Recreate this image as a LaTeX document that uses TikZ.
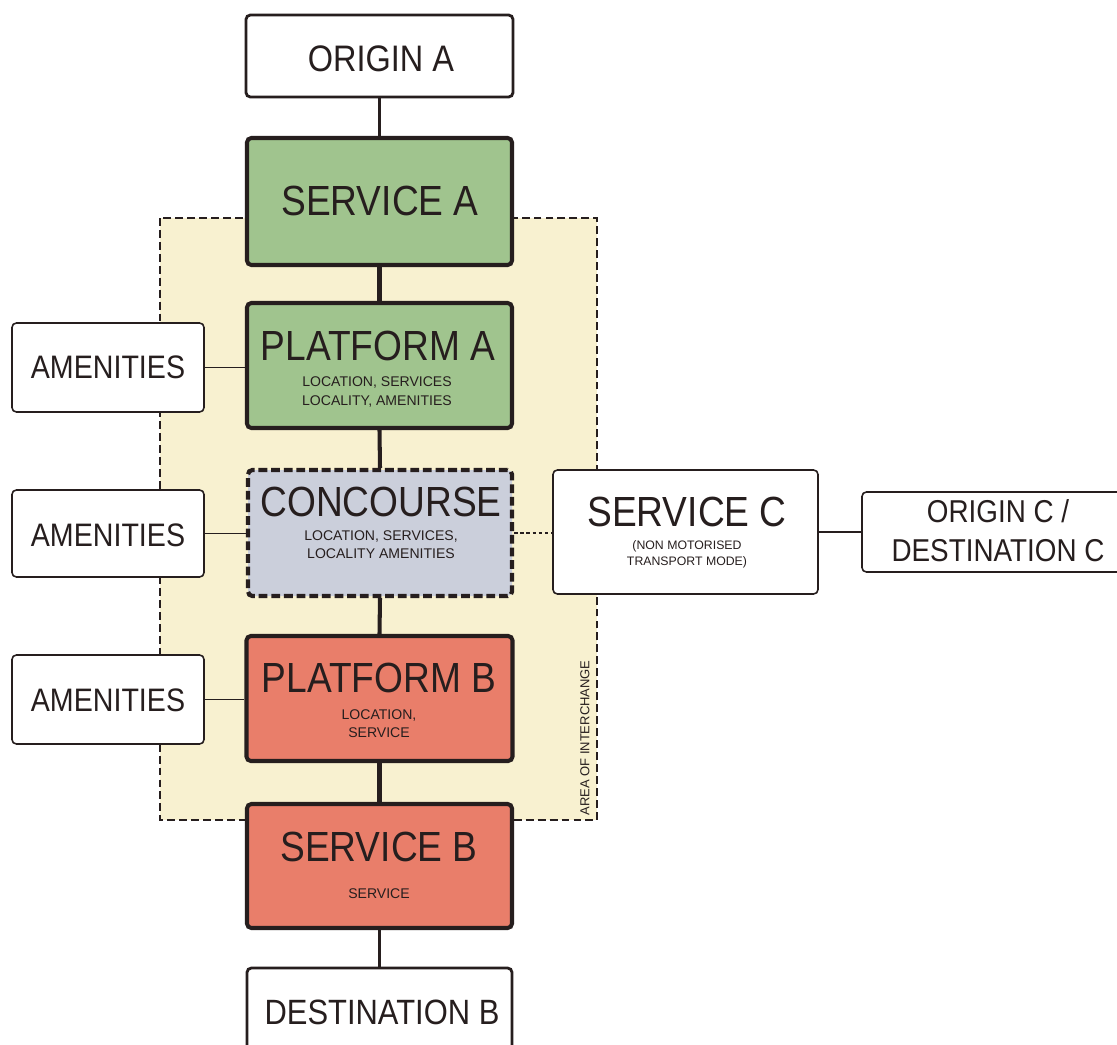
\documentclass[tikz,border=0pt]{standalone}
\usepackage{fontspec}
\setmainfont{Liberation Sans}
\newfontfamily\headfont{Liberation Sans}[FakeStretch=0.88]
\usetikzlibrary{calc}
\definecolor{ink}{RGB}{38,30,30}
\definecolor{areafill}{RGB}{248,241,208}
\definecolor{greenfill}{RGB}{160,196,142}
\definecolor{redfill}{RGB}{233,126,106}
\definecolor{greyfill}{RGB}{203,207,219}
\begin{document}
\begin{tikzpicture}[x=0.02cm,y=-0.02cm,
  bx/.style 2 args={minimum width=#1*0.02cm, minimum height=#2*0.02cm, inner sep=0pt, rounded corners=2.5pt},
  heavybox/.style={draw=ink, line width=2.3pt},
  endbox/.style={draw=ink, line width=1.6pt, fill=white},
  lightbox/.style={draw=ink, line width=0.9pt, fill=white},
  title/.style={inner sep=0pt, text=ink, font=\headfont\fontsize{24}{28}\selectfont},
  endtitle/.style={inner sep=0pt, text=ink, font=\headfont\fontsize{21}{25}\selectfont},
  amtitle/.style={inner sep=0pt, text=ink, font=\headfont\fontsize{18.5}{22}\selectfont},
  subtext/.style={inner sep=0pt, text=ink, align=center, font=\fontsize{8}{10.3}\selectfont},
  spine/.style={draw=ink, line width=2.3pt},
  thinlink/.style={draw=ink, line width=0.9pt}
]
\useasboundingbox (0,0) rectangle (1117,1045);
\clip (0,0) rectangle (1117,1045);
\fill[white] (0,0) rectangle (1117,1045);

% area of interchange
\draw[fill=areafill, draw=ink, line width=0.8pt, dash pattern=on 4.5pt off 2.3pt]
  (160,218) rectangle (597,820);
\node[inner sep=0pt, text=ink, rotate=90, font=\fontsize{7.4}{9}\selectfont] (areal) at (585,738) {AREA OF INTERCHANGE};

% spine boxes
\node[bx={267}{82}, endbox] (oa) at (379.5,56) {};
\node[bx={265}{127}, heavybox, fill=greenfill] (sa) at (379.5,201.5) {};
\node[bx={265}{125}, heavybox, fill=greenfill] (pa) at (379.5,365.5) {};
\node[bx={264}{126}, draw=ink, line width=2.4pt, dash pattern=on 5pt off 2.2pt, fill=greyfill] (cc) at (380,533) {};
\node[bx={266}{125}, heavybox, fill=redfill] (pb) at (379.5,698.5) {};
\node[bx={265}{124}, heavybox, fill=redfill] (sb) at (379.5,866) {};
\node[bx={265}{110}, endbox] (db) at (379.5,1023) {};

% side boxes
\node[bx={192}{89}, lightbox] (am1) at (108,367.5) {};
\node[bx={192}{87}, lightbox] (am2) at (108,533.5) {};
\node[bx={192}{89}, lightbox] (am3) at (108,699.5) {};
\node[bx={265}{124}, lightbox] (sc) at (685.5,532) {};
\node[bx={272}{80}, lightbox] (oc) at (998,532) {};

% connectors
\draw[spine, line width=1.8pt] (oa.south) -- (sa.north);
\draw[spine] (sa.south) -- (pa.north);
\draw[spine] (pa.south) -- (cc.north);
\draw[spine] (cc.south) -- (pb.north);
\draw[spine] (pb.south) -- (sb.north);
\draw[spine, line width=2pt] (sb.south) -- (db.north);
\draw[thinlink] (am1.east) -- (am1.east -| pa.west);
\draw[thinlink] (am2.east) -- (am2.east -| cc.west);
\draw[thinlink] (am3.east) -- (am3.east -| pb.west);
\draw[thinlink, dash pattern=on 2pt off 1.5pt] (cc.east) -- (cc.east -| sc.west);
\draw[thinlink] (sc.east) -- (sc.east -| oc.west);

% texts
\node[endtitle] (oat) at (381,59) {ORIGIN A};
\node[title] (sat) at (380,201) {SERVICE A};
\node[title] (pat) at (378,346) {PLATFORM A};
\node[subtext] (pas) at (377,392) {LOCATION, SERVICES\\LOCALITY, AMENITIES};
\node[title] (cct) at (381,502) {CONCOURSE};
\node[subtext] (ccs) at (381,545) {LOCATION, SERVICES,\\LOCALITY AMENITIES};
\node[title] (pbt) at (379,678) {PLATFORM B};
\node[subtext] (pbs) at (379,724) {LOCATION,\\SERVICE};
\node[title] (sbt) at (379,847) {SERVICE B};
\node[subtext] (sbs) at (379,894) {SERVICE};
\node[endtitle, font=\headfont\fontsize{20}{24}\selectfont] (dbt) at (382,1012) {DESTINATION B};
\node[amtitle] (am1t) at (108,367) {AMENITIES};
\node[amtitle] (am2t) at (108,535) {AMENITIES};
\node[amtitle] (am3t) at (108,700) {AMENITIES};
\node[title] (sct) at (687,512) {SERVICE C};
\node[subtext, font=\fontsize{7}{9}\selectfont] (scs) at (687,554) {(NON MOTORISED\\TRANSPORT MODE)};
\node[inner sep=0pt, text=ink, align=center, font=\headfont\fontsize{18}{22.2}\selectfont] (oct) at (998,531) {ORIGIN C /\\DESTINATION C};
\end{tikzpicture}
\end{document}
